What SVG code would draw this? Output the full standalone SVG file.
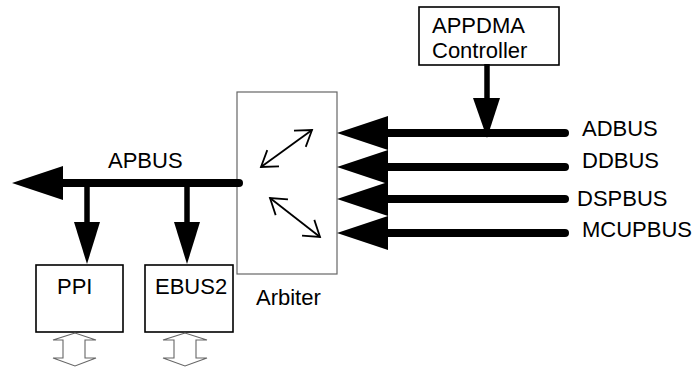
<svg xmlns="http://www.w3.org/2000/svg" width="693" height="368" viewBox="0 0 693 368">
  <style>
    .box { fill: #fff; stroke: #000; stroke-width: 1.6; }
    .arb { fill: #fff; stroke: #666; stroke-width: 1.2; }
    .lbl { font-family: "Liberation Sans", Arial, sans-serif; font-size: 22px; fill: #000; }
    .bus { stroke: #000; stroke-width: 8; stroke-linecap: round; fill: none; }
    .stem { stroke: #000; stroke-width: 5.5; fill: none; }
    .head { fill: #000; stroke: none; }
    .io { fill: #fff; stroke: #666; stroke-width: 1.1; stroke-linejoin: miter; }
    .swap { stroke: #000; stroke-width: 1.8; fill: none; }
  </style>
  <defs>
    <marker id="open" markerUnits="userSpaceOnUse" markerWidth="24" markerHeight="24" viewBox="-20 -12 24 24" refX="0" refY="0" orient="auto-start-reverse">
      <path d="M-15,-10 L0,0 L-15,10" fill="none" stroke="#000" stroke-width="1.8"/>
    </marker>
  </defs>

  <!-- Arbiter -->
  <g id="arbiter">
    <rect class="arb" x="237" y="92" width="100" height="182"/>
    <line class="swap" x1="261" y1="167" x2="312" y2="130" marker-start="url(#open)" marker-end="url(#open)"/>
    <line class="swap" x1="270" y1="198" x2="320" y2="237" marker-start="url(#open)" marker-end="url(#open)"/>
    <text class="lbl" x="256" y="305">Arbiter</text>
  </g>

  <!-- APPDMA controller -->
  <g id="appdma">
    <rect class="box" x="419" y="7" width="140" height="58"/>
    <text class="lbl" x="432" y="33">APPDMA</text>
    <text class="lbl" x="432" y="58">Controller</text>
  </g>

  <!-- Peripheral blocks -->
  <g id="ppi">
    <rect class="box" x="36" y="265" width="87" height="67"/>
    <text class="lbl" x="57" y="294">PPI</text>
    <path class="io" d="M75,333 L53,340 L63,340 L63,358 L53,358 L75,366 L96,358 L85,358 L85,340 L96,340 Z"/>
  </g>
  <g id="ebus2">
    <rect class="box" x="145" y="265" width="88" height="67"/>
    <text class="lbl" x="155" y="294">EBUS2</text>
    <path class="io" d="M185,333 L163,340 L174,340 L174,358 L163,358 L185,366 L207,358 L196,358 L196,340 L207,340 Z"/>
  </g>

  <!-- Bus connectors -->
  <g id="connectors">
    <!-- APBUS out of the arbiter -->
    <line class="bus" x1="239" y1="183" x2="60" y2="183" stroke-width="7"/>
    <polygon class="head" points="12,183 63,166 63,200"/>
    <line class="stem" x1="87" y1="183" x2="87" y2="224"/>
    <polygon class="head" points="74,222 100,222 87,264"/>
    <line class="stem" x1="187" y1="183" x2="187" y2="224"/>
    <polygon class="head" points="174,222 200,222 187,264"/>

    <!-- incoming buses -->
    <line class="bus" x1="565" y1="133" x2="385" y2="133"/>
    <line class="bus" x1="565" y1="167" x2="385" y2="167"/>
    <line class="bus" x1="565" y1="199" x2="385" y2="199"/>
    <line class="bus" x1="565" y1="233" x2="385" y2="233"/>
    <polygon class="head" points="337,133 388,116 388,150"/>
    <polygon class="head" points="337,167 388,150 388,184"/>
    <polygon class="head" points="337,199 388,182 388,216"/>
    <polygon class="head" points="337,233 388,216 388,250"/>

    <!-- DMA controller onto ADBUS -->
    <line class="stem" x1="487" y1="64" x2="487" y2="100"/>
    <polygon class="head" points="473,98 500,98 487,138"/>
  </g>

  <!-- Bus names -->
  <g id="bus-labels">
    <text class="lbl" x="108" y="168">APBUS</text>
    <text class="lbl" x="582" y="136">ADBUS</text>
    <text class="lbl" x="582" y="168">DDBUS</text>
    <text class="lbl" x="577" y="206">DSPBUS</text>
    <text class="lbl" x="582" y="237">MCUPBUS</text>
  </g>
</svg>
